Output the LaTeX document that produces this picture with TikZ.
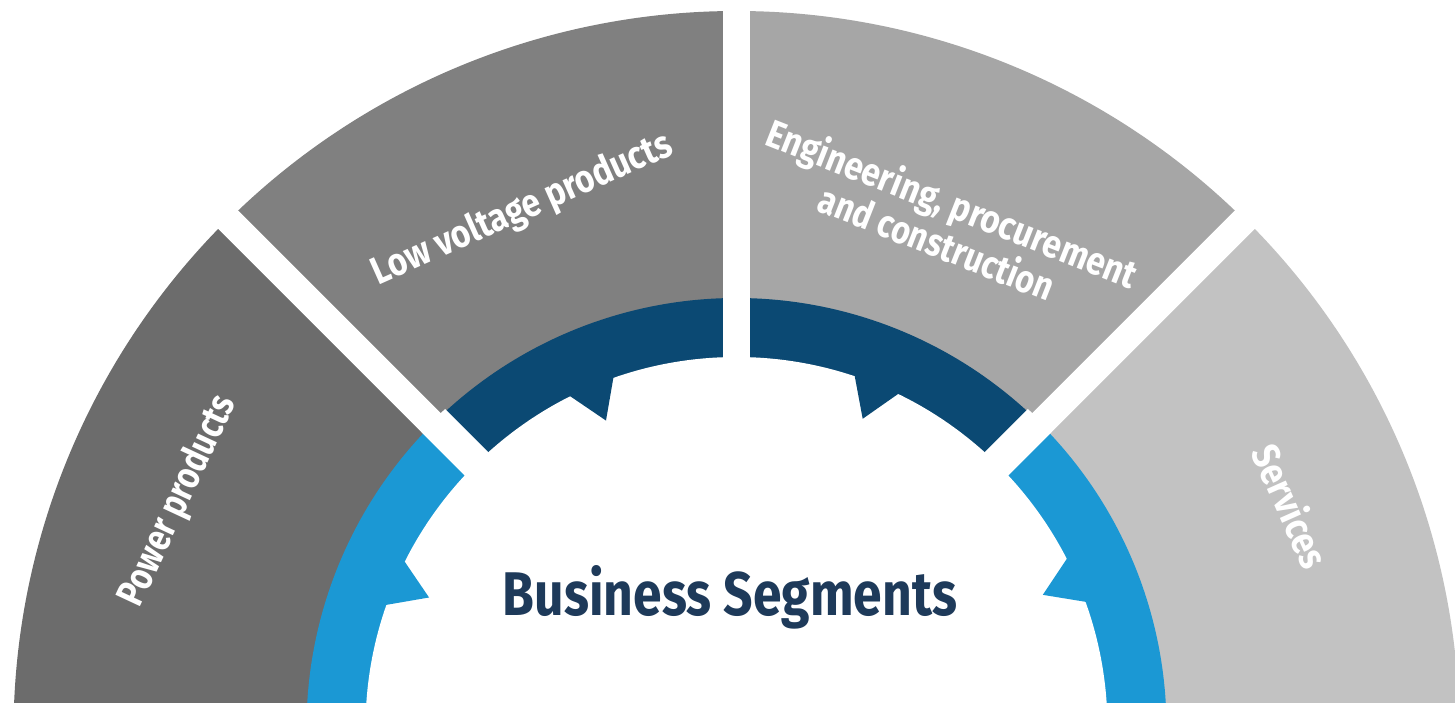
\documentclass[tikz,border=0pt]{standalone}
\usepackage{fontspec}
\usepackage{graphicx}
\usetikzlibrary{calc}
\setmainfont{Fira Sans}
\definecolor{gPower}{HTML}{6C6C6C}
\definecolor{gLow}{HTML}{808080}
\definecolor{gEpc}{HTML}{A6A6A6}
\definecolor{gServ}{HTML}{C2C2C2}
\definecolor{dBlue}{HTML}{0B4973}
\definecolor{lBlue}{HTML}{1B98D4}
\definecolor{navy}{HTML}{1E3A5A}
\tikzset{
  lbl/.style={text=white, inner sep=0pt, font=\fontsize{19.5pt}{19pt}\selectfont\bfseries},
  ttl/.style={text=navy, inner sep=0pt, font=\fontsize{36pt}{40pt}\selectfont\bfseries},
  gapband/.style={white, line width=13.5pt},
}
\begin{document}
\begin{tikzpicture}[x=0.5pt,y=0.5pt]
\useasboundingbox (-736.5,26) rectangle (718.5,728);
\clip (-736.5,26) rectangle (718.5,728);
\fill[white] (-736.5,26) rectangle (718.5,728);
% outer gray segments
\fill[gPower] (0,-5) -- ($(0,-5)+(180:723)$) arc[start angle=180,end angle=135,radius=723] -- cycle;
\fill[gLow] (0,-5) -- ($(0,-5)+(135:722)$) arc[start angle=135,end angle=90,radius=722] -- cycle;
\fill[gEpc] (0,-5) -- ($(0,-5)+(90:722)$) arc[start angle=90,end angle=45,radius=722] -- cycle;
\fill[gServ] (0,-5) -- ($(0,-5)+(45:723)$) arc[start angle=45,end angle=-2,radius=723] -- cycle;
% ring
\fill[lBlue] (0,0) -- (180:430) arc[start angle=180,end angle=135,radius=430] -- cycle;
\fill[dBlue] (0,0) -- (135:430) arc[start angle=135,end angle=90,radius=430] -- cycle;
\fill[dBlue] (0,0) -- (90:430) arc[start angle=90,end angle=45,radius=430] -- cycle;
\fill[lBlue] (0,0) -- (45:430) arc[start angle=45,end angle=-2,radius=430] -- cycle;
\fill[white] (0,0) circle[radius=371];
% teeth
\fill[lBlue] (152.8:378) -- (157:334) -- (161.2:378) -- cycle;
\fill[dBlue] (108.8:378) -- (113:334) -- (117.2:378) -- cycle;
\fill[dBlue] (63.6:378) -- (67.8:334) -- (72.0:378) -- cycle;
\fill[lBlue] (19.3:378) -- (23.5:334) -- (27.7:378) -- cycle;
% gaps
\draw[gapband] (0,0) -- (135:800);
\draw[gapband] (0,0) -- (90:800);
\draw[gapband] (0,0) -- (45:800);
\begin{scope}
\clip (0,0) circle[radius=432];
\draw[white, line width=16.5pt] (45:3) -- ++(135:500);
\draw[white, line width=16.5pt] (135:3) -- ++(45:500);
\end{scope}
% labels
\node[lbl, rotate=65] (pp) at (-558,227) {\resizebox{114pt}{\height}{Power products}};
\node[lbl, rotate=24] (lv) at (-214,518) {\resizebox{162pt}{\height}{Low voltage products}};
\node[lbl, rotate=-21.5, align=center] (epc) at (208.5,506) {\resizebox{197.5pt}{\height}{Engineering, procurement}\\\resizebox{124.5pt}{\height}{and construction}};
\node[lbl, rotate=-66] (sv) at (555,222) {\resizebox{65pt}{\height}{Services}};
\node[ttl, anchor=base] (bs) at (-6.5,113) {\resizebox{227pt}{25pt}{Business Segments}};
\end{tikzpicture}
\end{document}
